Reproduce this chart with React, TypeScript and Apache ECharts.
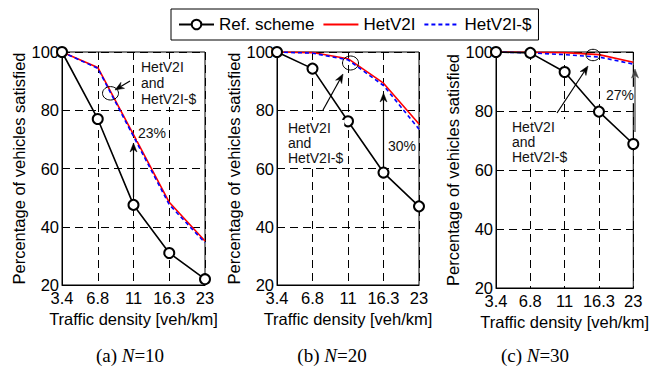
import React, { useEffect, useRef } from "react";
import * as echarts from "echarts";

const categories = ["3.4", "6.8", "11", "16.3", "23"];
const yTicks = [20, 40, 60, 80, 100];

const refA = [100, 77, 47.5, 31, 22];
const hetA = [100, 94.7, 71.6, 48.4, 35.1];
const hetSA = [100, 94.4, 71, 47.6, 34.5];

const refB = [100, 94.3, 76.2, 58.6, 47];
const hetB = [100, 99.8, 97.7, 89.3, 75.3];
const hetSB = [100, 99.6, 97.3, 88.5, 73.5];

const refC = [100, 99.7, 93.2, 79.8, 68.8];
const hetC = [100, 99.9, 99.8, 99.1, 96.5];
const hetSC = [100, 99.7, 99.1, 98.3, 95.9];

const seriesNames = ["Ref. scheme", "HetV2I", "HetV2I-$"];
const captions = [
  { tag: "(a) ", n: "=10" },
  { tag: "(b) ", n: "=20" },
  { tag: "(c) ", n: "=30" },
];
const gainLabels = ["23%", "30%", "27%"];
const annoText = "HetV2I\nand\nHetV2I-$";

const FONT = "'Liberation Sans', Arial, sans-serif";
const SERIF = "'Liberation Serif', 'Times New Roman', serif";

function arrow(x1: number, y1: number, x2: number, y2: number, color = "#000", head = 9, w = 3.5) {
  const dx = x2 - x1;
  const dy = y2 - y1;
  const len = Math.sqrt(dx * dx + dy * dy);
  const ux = dx / len;
  const uy = dy / len;
  const bx = x2 - ux * head;
  const by = y2 - uy * head;
  const px = -uy;
  const py = ux;
  const nx = x2 - ux * head * 0.7;
  const ny = y2 - uy * head * 0.7;
  return {
    type: "group",
    z: 100,
    children: [
      {
        type: "line",
        z: 100,
        shape: { x1, y1, x2: nx, y2: ny },
        style: { stroke: color, lineWidth: 1.2 },
      },
      {
        type: "polygon",
        z: 100,
        shape: {
          points: [
            [x2, y2],
            [bx + px * w, by + py * w],
            [nx, ny],
            [bx - px * w, by - py * w],
          ],
        },
        style: { fill: color, stroke: color, lineWidth: 0.5 },
      },
    ],
  };
}

function ellipse(cx: number, cy: number, rx: number, ry: number) {
  return {
    type: "ellipse",
    z: 100,
    shape: { cx, cy, rx, ry },
    style: { fill: "none", stroke: "#000", lineWidth: 1 },
  };
}

function label(x: number, y: number, text: string, lh = 16) {
  return {
    type: "text",
    z: 90,
    x,
    y,
    style: {
      text,
      font: `14px ${FONT}`,
      fill: "#111",
      lineHeight: lh,
      backgroundColor: "#fff",
      padding: [0, 1, 0, 1],
      verticalAlign: "top",
    },
  };
}

function caption(cx: number, cy: number, c: { tag: string; n: string }) {
  return {
    type: "text",
    z: 100,
    x: cx,
    y: cy,
    style: {
      text: `{a|${c.tag}}{i|N}{a|${c.n}}`,
      align: "center",
      verticalAlign: "middle",
      rich: {
        a: { fontFamily: SERIF, fontSize: 19, fill: "#000" },
        i: { fontFamily: SERIF, fontSize: 19, fontStyle: "italic", fill: "#000" },
      },
    },
  };
}

const grids = [
  { left: 62, top: 52, width: 143, height: 233 },
  { left: 277, top: 52, width: 142, height: 233 },
  { left: 496, top: 52, width: 144.7, height: 236 },
];

export default function App() {
  const ref = useRef<HTMLDivElement>(null);
  useEffect(() => {
    if (!ref.current) return;
    const chart = echarts.init(ref.current, undefined, { renderer: "svg" });
    const data = [
      [refA, hetA, hetSA],
      [refB, hetB, hetSB],
      [refC, hetC, hetSC],
    ];
    const series: any[] = [];
    data.forEach((set, gi) => {
      series.push({
        name: seriesNames[0],
        type: "line",
        xAxisIndex: gi,
        yAxisIndex: gi,
        data: set[0],
        symbol: "emptyCircle",
        symbolSize: 10,
        color: "#000",
        itemStyle: { color: "#000", borderWidth: 1.6 },
        lineStyle: { color: "#000", width: 1.6 },
        z: 3,
      });
      series.push({
        name: seriesNames[1],
        type: "line",
        xAxisIndex: gi,
        yAxisIndex: gi,
        data: set[1],
        symbol: "none",
        color: "#ff0000",
        lineStyle: { color: "#ff0000", width: 1.6 },
        z: 2,
      });
      series.push({
        name: seriesNames[2],
        type: "line",
        xAxisIndex: gi,
        yAxisIndex: gi,
        data: set[2],
        symbol: "none",
        color: "#0000ff",
        lineStyle: { color: "#0000ff", width: 1.6, type: [4, 3] },
        z: 2,
      });
    });

    const xAxis = grids.map((_, gi) => ({
      type: "category",
      gridIndex: gi,
      data: categories,
      boundaryGap: false,
      name: "Traffic density [veh/km]",
      nameLocation: "middle",
      nameGap: 23,
      nameTextStyle: { fontSize: 16.5, color: "#000", fontFamily: FONT },
      axisLine: { show: true, lineStyle: { color: "#000", width: 1 } },
      axisTick: { show: false },
      axisLabel: { interval: 0, fontSize: 16.5, color: "#000", margin: 4, fontFamily: FONT },
      splitLine: { show: true, lineStyle: { color: "#000", type: [8, 5], width: 1 } },
    }));
    const yAxis = grids.map((_, gi) => ({
      type: "value",
      gridIndex: gi,
      min: yTicks[0],
      max: yTicks[yTicks.length - 1],
      interval: 20,
      name: "Percentage of vehicles satisfied",
      nameLocation: "middle",
      nameGap: 35,
      nameTextStyle: { fontSize: 16.5, color: "#000", fontFamily: FONT },
      axisLine: { show: true, lineStyle: { color: "#000", width: 1 } },
      axisTick: { show: false },
      axisLabel: { fontSize: 16.5, color: "#000", margin: 3, fontFamily: FONT },
      splitLine: { show: true, lineStyle: { color: "#000", type: [8, 5], width: 1 } },
    }));

    const graphic: any[] = [
      // (a)
      label(140, 59, annoText, 16),
      ellipse(110.5, 93.3, 8, 6.7),
      arrow(130, 81, 115, 90),
      label(137, 125, gainLabels[0]),
      arrow(133.5, 197, 133.5, 143),
      // (b)
      label(287, 120, annoText, 15),
      ellipse(350.5, 63, 8, 7),
      arrow(323, 110, 343, 74),
      label(387, 138, gainLabels[1]),
      arrow(383.5, 168, 383.5, 93),
      // (c)
      label(511, 119, annoText, 15),
      ellipse(593, 55, 7, 5.7),
      arrow(557, 113, 588, 66),
      label(605, 87, gainLabels[2]),
      arrow(635, 132, 635, 69, "#444"),
      // captions
      caption(130, 355, captions[0]),
      caption(332, 355, captions[1]),
      caption(535, 355, captions[2]),
    ];

    chart.setOption({
      animation: false,
      backgroundColor: "#fff",
      textStyle: { fontFamily: FONT },
      legend: {
        data: [
          { name: seriesNames[0] },
          { name: seriesNames[1], itemStyle: { opacity: 0 } },
          { name: seriesNames[2], itemStyle: { opacity: 0 } },
        ],
        left: 171,
        top: 9,
        padding: [7, 7],
        itemGap: 8,
        itemWidth: 35,
        itemHeight: 12,
        borderColor: "#000",
        borderWidth: 1,
        textStyle: { fontSize: 17, color: "#000", fontFamily: FONT },
      },
      grid: grids.map((g) => ({
        ...g,
        show: true,
        borderColor: "#000",
        borderWidth: 1,
        backgroundColor: "transparent",
      })),
      xAxis,
      yAxis,
      series,
      graphic,
    });
    return () => chart.dispose();
  }, []);
  return (
    <div
      ref={ref}
      style={{ position: "fixed", left: 0, top: 0, width: 652, height: 369, background: "#fff" }}
    />
  );
}
